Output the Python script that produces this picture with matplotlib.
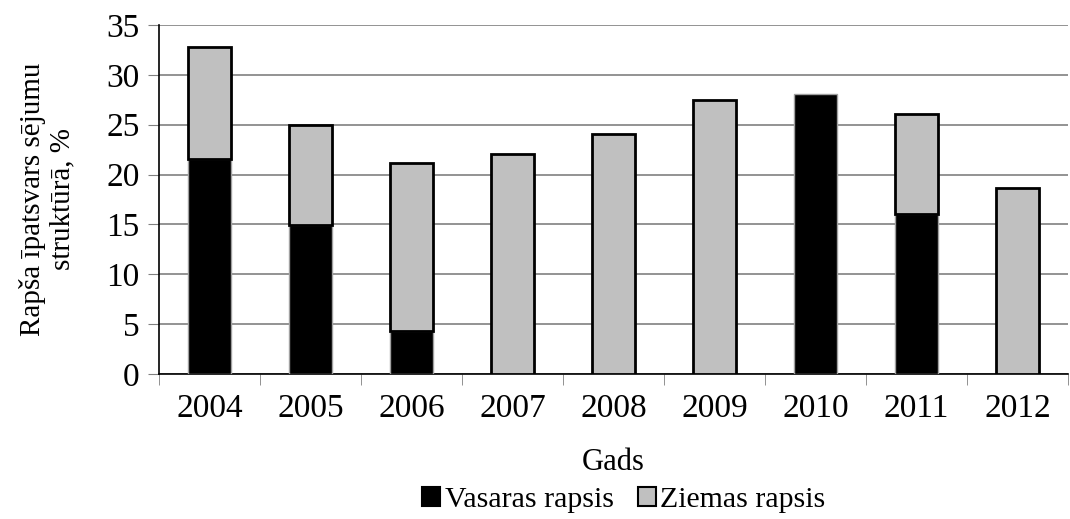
import matplotlib.pyplot as plt
import numpy as np

years = ['2004', '2005', '2006', '2007', '2008', '2009', '2010', '2011', '2012']
vasaras = [21.6, 14.9, 4.3, 0, 0, 0, 28.1, 16.0, 0]
ziemas = [11.2, 10.1, 16.9, 22.1, 24.1, 27.5, 0, 10.1, 18.7]

plt.rcParams['font.family'] = ['Liberation Serif', 'DejaVu Serif']

fig = plt.figure(figsize=(10.7, 5.19), dpi=100)
ax = fig.add_axes([159 / 1070, 1 - 374 / 519, (1068 - 159) / 1070, (374 - 25) / 519])

x = np.arange(len(years))
w = 0.42
ax.bar(x, vasaras, w, color='black', edgecolor='#a0a0a0', linewidth=1, label='Vasaras rapsis', zorder=3)
z = [v if v > 0 else np.nan for v in ziemas]
ax.bar(x, z, w, bottom=vasaras, color='#c0c0c0', edgecolor='black', linewidth=2,
       label='Ziemas rapsis', zorder=3)

ax.set_xlim(-0.5, len(years) - 0.5)
ax.set_ylim(0, 35)
ax.set_yticks(range(0, 36, 5))
ax.yaxis.grid(True, color='#808080', linewidth=1.2)
ax.set_axisbelow(True)

ax.set_xticks(x)
ax.set_xticklabels(years)
ax.set_xticks(np.arange(-0.5, len(years), 1), minor=True)
ax.tick_params(axis='x', which='major', length=0, labelsize=24, pad=14)
ax.tick_params(axis='x', which='minor', length=8, color='#808080', direction='out')
ax.tick_params(axis='y', length=8, color='#808080', labelsize=24, pad=6)

for s in ['top', 'right']:
    ax.spines[s].set_visible(False)
ax.spines['left'].set_linewidth(1.2)
ax.spines['bottom'].set_linewidth(1.2)

ax.set_xlabel('Gads', fontsize=22, labelpad=17)
ax.set_ylabel('Rapša īpatsvars sējumu\nstruktūrā, %', fontsize=21, labelpad=22)

leg = fig.legend(*ax.get_legend_handles_labels(), loc='center', bbox_to_anchor=(0.583, 0.037),
                 ncol=2, frameon=False, fontsize=21.5, handlelength=0.6, handleheight=0.6,
                 handletextpad=0.15, columnspacing=0.8, borderpad=0)
for h in leg.legend_handles:
    h.set_edgecolor('black')
    h.set_linewidth(1.5)

fig.savefig('out.png', dpi=100)
